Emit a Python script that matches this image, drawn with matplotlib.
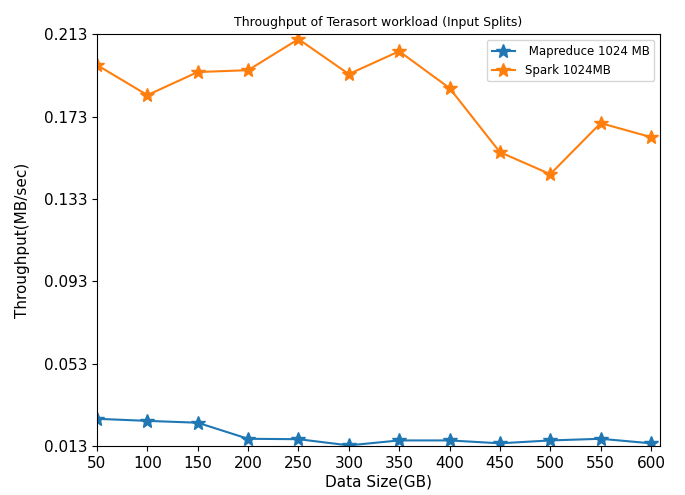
import numpy as np
import matplotlib
matplotlib.use('Agg')
import matplotlib.pyplot as plt

# throughput (MB/sec) per data size for the Terasort input-split runs
sizes = [50, 100, 150, 200, 250, 300, 350, 400, 450, 500, 550, 600]
mapreduce = [0.0262, 0.0252, 0.0243, 0.0165, 0.0163, 0.0133, 0.0157, 0.0157, 0.0143, 0.0157, 0.0165, 0.0143]
spark = [0.198, 0.1834, 0.1946, 0.1955, 0.2106, 0.1936, 0.2047, 0.1868, 0.1557, 0.1450, 0.1698, 0.1630]
yticks = [0.013, 0.053, 0.093, 0.133, 0.173, 0.213]

fig = plt.figure(figsize=(6.85, 4.95), dpi=100)
ax = fig.add_axes([0.1416, 0.099, 0.822, 0.832])
ax.plot(sizes, mapreduce, marker='*', markersize=10, color='#1f77b4', label=' Mapreduce 1024 MB')
ax.plot(sizes, spark, marker='*', markersize=10, color='#ff7f0e', label='Spark 1024MB')
ax.set_xlim(50, 609)
ax.set_ylim(0.013, 0.213)
ax.set_xticks(sizes)
ax.set_yticks(yticks)
ax.set_yticklabels([f'{v:.3f}' for v in yticks])
ax.tick_params(labelsize=11)
ax.set_xlabel('Data Size(GB)', fontsize=11, labelpad=3)
ax.set_ylabel('Throughput(MB/sec)', fontsize=11, labelpad=10)
ax.set_title('Throughput of Terasort workload (Input Splits)', fontsize=9)
ax.legend(loc='upper right', fontsize=8.5)
fig.savefig('out.png', dpi=100)
